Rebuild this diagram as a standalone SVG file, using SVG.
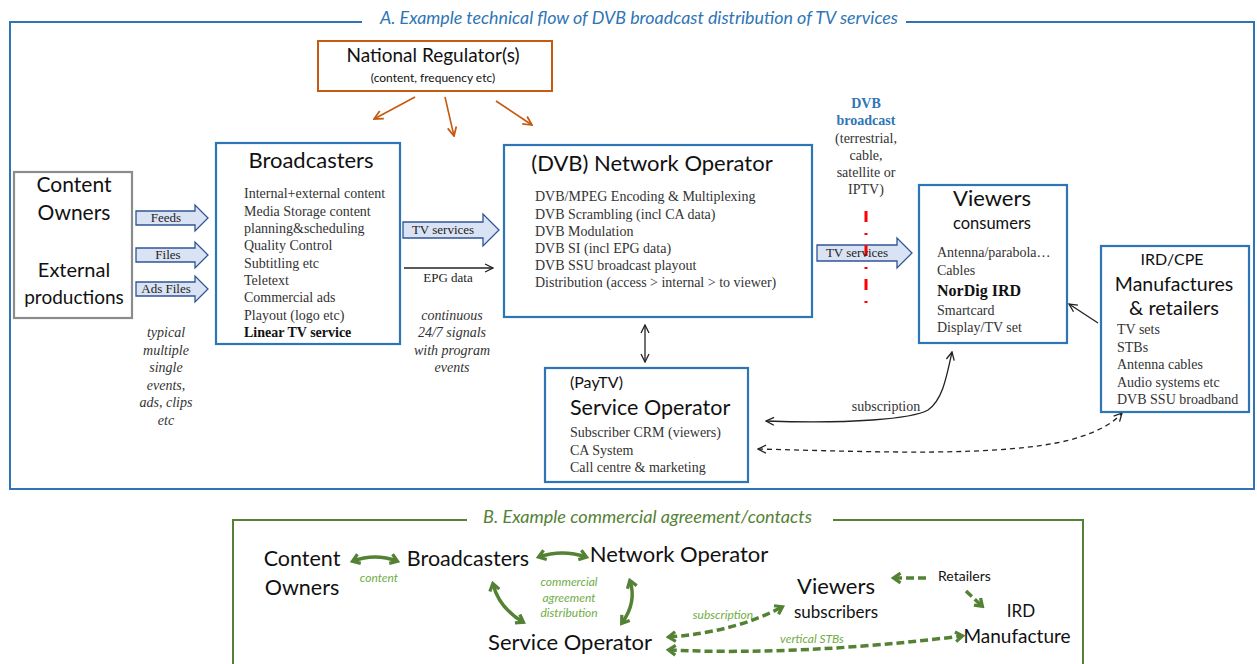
<svg xmlns="http://www.w3.org/2000/svg" width="1257" height="664" viewBox="0 0 1257 664">
<defs>
<style>
.frameA{fill:none;stroke:#2E75B6;stroke-width:2}
.frameB{fill:none;stroke:#548235;stroke-width:2}
.box{fill:#fff;stroke:#2E75B6;stroke-width:2.2}
.gbox{fill:#fff;stroke:#8C8C8C;stroke-width:2.2}
.obox{fill:#fff;stroke:#C55A11;stroke-width:2}
.cal{font-family:Lato,"Open Sans","Liberation Sans",sans-serif;fill:#111}
.ser{font-family:"Liberation Serif","DejaVu Serif",serif;fill:#333;font-size:14px}
.titA{font-family:Lato,"Open Sans","Liberation Sans",sans-serif;font-style:italic;fill:#2E75B6;font-size:17px}
.titB{font-family:Lato,"Open Sans","Liberation Sans",sans-serif;font-style:italic;fill:#548235;font-size:17px}
.glab{font-family:Lato,"Open Sans","Liberation Sans",sans-serif;font-style:italic;fill:#70AD47;font-size:12px}
.blk{fill:#DAE3F3;stroke:#2F5597;stroke-width:1.3}
.blkt{font-family:"Liberation Serif","DejaVu Serif",serif;fill:#222;font-size:13px}
.ln{fill:none;stroke:#222;stroke-width:1.3}
.oln{fill:none;stroke:#C55A11;stroke-width:1.6}
.gln{fill:none;stroke:#548235;stroke-width:3.5}
.gdash{stroke-dasharray:8 4}
</style>
<marker id="ah" viewBox="0 0 10 10" refX="9" refY="5" markerWidth="10" markerHeight="10" markerUnits="userSpaceOnUse" orient="auto-start-reverse">
<path d="M1,1 L9,5 L1,9" fill="none" stroke="#222" stroke-width="1.3"/>
</marker>
<marker id="oah" viewBox="0 0 10 10" refX="9" refY="5" markerWidth="11" markerHeight="11" markerUnits="userSpaceOnUse" orient="auto">
<path d="M1,1 L9,5 L1,9" fill="none" stroke="#C55A11" stroke-width="1.6"/>
</marker>
<marker id="gah" viewBox="0 0 12 12" refX="9" refY="6" markerWidth="13" markerHeight="13" markerUnits="userSpaceOnUse" orient="auto-start-reverse">
<path d="M3,1.5 L9.5,6 L3,10.5" fill="none" stroke="#548235" stroke-width="3" stroke-linejoin="miter"/>
</marker>
</defs>
<rect width="1257" height="664" fill="#fff"/>

<!-- Frame A -->
<g id="frameA">
<path class="frameA" d="M362,22 L10,22 L10,489 L1254,489 L1254,22 L906,22"/>
<text class="titA" x="380" y="24" textLength="518" lengthAdjust="spacingAndGlyphs">A. Example technical flow of DVB broadcast distribution of TV services</text>
</g>

<!-- Frame B -->
<g id="frameB">
<path class="frameB" d="M467,520 L233,520 L233,666 M833,520 L1083,520 L1083,666"/>
<text class="titB" x="483" y="523" textLength="329" lengthAdjust="spacingAndGlyphs">B. Example commercial agreement/contacts</text>
</g>

<!-- Connectors -->
<g id="connectors">
<path class="oln" d="M415,97 L374,119" marker-end="url(#oah)"/>
<path class="oln" d="M445,97 L454,136" marker-end="url(#oah)"/>
<path class="oln" d="M496,101 L532,125" marker-end="url(#oah)"/>

<path class="blk" d="M136,211 L195,211 L195,205 L208,218 L195,231 L195,225 L136,225 Z"/>
<path class="blk" d="M136,248 L195,248 L195,242 L208,255 L195,268 L195,262 L136,262 Z"/>
<path class="blk" d="M136,282 L195,282 L195,276 L208,289 L195,302 L195,296 L136,296 Z"/>
<path class="blk" d="M403,222 L483,222 L483,214 L499,230 L483,246 L483,238 L403,238 Z"/>
<path class="blk" d="M817,245 L897,245 L897,238 L912,253 L897,268 L897,261 L817,261 Z"/>

<path class="ln" d="M404,268 L493,268" marker-end="url(#ah)"/>
<path class="ln" d="M645,325 L645,362" marker-start="url(#ah)" marker-end="url(#ah)"/>
<path class="ln" d="M1098,323 L1069,304" marker-end="url(#ah)"/>
<path class="ln" d="M766,421 C850,424 912,419 928,410 C942,400 946,380 952,352" marker-start="url(#ah)" marker-end="url(#ah)"/>
<path class="ln" d="M758,449 C880,452 1000,457 1070,440 C1098,432 1112,424 1122,413" stroke-dasharray="5 4" marker-start="url(#ah)" marker-end="url(#ah)"/>

<path d="M866,211 L866,305" fill="none" stroke="#FF0000" stroke-width="3" stroke-dasharray="11 11 2 10"/>

<path class="gln" d="M353,561 Q375,553 397,561" marker-start="url(#gah)" marker-end="url(#gah)"/>
<path class="gln" d="M539,557 Q562,549 586,557" marker-start="url(#gah)" marker-end="url(#gah)"/>
<path class="gln" d="M493,584 Q499,608 523,622" marker-start="url(#gah)" marker-end="url(#gah)"/>
<path class="gln" d="M630,581 Q637,602 622,623" marker-start="url(#gah)" marker-end="url(#gah)"/>
<path class="gln gdash" d="M669,637 Q735,632 782,607" marker-start="url(#gah)" marker-end="url(#gah)"/>
<path class="gln gdash" d="M669,650 Q800,656 962,636" marker-start="url(#gah)" marker-end="url(#gah)"/>
<path class="gln gdash" d="M926,578 L894,578" marker-end="url(#gah)"/>
<path class="gln gdash" d="M966,591 L982,606" marker-end="url(#gah)"/>
</g>

<!-- Part A labels -->
<g id="labelsA">
<text class="blkt" x="166" y="222" text-anchor="middle">Feeds</text>
<text class="blkt" x="168" y="259" text-anchor="middle">Files</text>
<text class="blkt" x="166" y="293" text-anchor="middle">Ads Files</text>
<text class="blkt" x="443" y="234" text-anchor="middle">TV services</text>
<text class="blkt" x="857" y="257" text-anchor="middle">TV services</text>
<text class="blkt" x="448" y="282" text-anchor="middle">EPG data</text>
<text class="ser" font-style="italic" text-anchor="middle"><tspan x="452" y="320">continuous</tspan><tspan x="452" y="337">24/7 signals</tspan><tspan x="452" y="355">with program</tspan><tspan x="452" y="372">events</tspan></text>
<text class="ser" font-style="italic" text-anchor="middle"><tspan x="166" y="337">typical</tspan><tspan x="166" y="355">multiple</tspan><tspan x="166" y="372">single</tspan><tspan x="166" y="390">events,</tspan><tspan x="166" y="407">ads, clips</tspan><tspan x="166" y="425">etc</tspan></text>
<text class="ser" text-anchor="middle"><tspan x="866" y="108" font-weight="bold" fill="#2E75B6">DVB</tspan><tspan x="866" y="125" font-weight="bold" fill="#2E75B6">broadcast</tspan><tspan x="866" y="143">(terrestrial,</tspan><tspan x="866" y="160">cable,</tspan><tspan x="866" y="177">satellite or</tspan><tspan x="866" y="194">IPTV)</tspan></text>
<text class="ser" x="886" y="411" text-anchor="middle" font-size="12">subscription</text>
</g>

<g id="regulator">
<rect class="obox" x="318" y="41" width="234" height="50"/>
<text class="cal" x="433" y="62" text-anchor="middle" font-size="19">National Regulator(s)</text>
<text class="cal" x="433" y="82" text-anchor="middle" font-size="12">(content, frequency etc)</text>
</g>

<g id="contentOwners">
<rect class="gbox" x="14" y="172" width="118" height="146"/>
<text class="cal" x="74" y="192" text-anchor="middle" font-size="21">Content</text>
<text class="cal" x="74" y="220" text-anchor="middle" font-size="21">Owners</text>
<text class="cal" x="74" y="277" text-anchor="middle" font-size="20">External</text>
<text class="cal" x="74" y="304" text-anchor="middle" font-size="19">productions</text>
</g>

<g id="broadcasters">
<rect class="box" x="216" y="143" width="184" height="201"/>
<text class="cal" x="311" y="168" text-anchor="middle" font-size="22">Broadcasters</text>
<text class="ser"><tspan x="244" y="198">Internal+external content</tspan><tspan x="244" y="216">Media Storage content</tspan><tspan x="244" y="233">planning&amp;scheduling</tspan><tspan x="244" y="250">Quality Control</tspan><tspan x="244" y="268">Subtitling etc</tspan><tspan x="244" y="285">Teletext</tspan><tspan x="244" y="302">Commercial ads</tspan><tspan x="244" y="320">Playout (logo etc)</tspan><tspan x="244" y="337" font-weight="bold" fill="#111">Linear TV service</tspan></text>
</g>

<g id="networkOperator">
<rect class="box" x="504" y="145" width="308" height="172"/>
<text class="cal" x="652" y="171" text-anchor="middle" font-size="22">(DVB) Network Operator</text>
<text class="ser"><tspan x="535" y="201">DVB/MPEG  Encoding &amp; Multiplexing</tspan><tspan x="535" y="219">DVB Scrambling (incl CA data)</tspan><tspan x="535" y="236">DVB Modulation</tspan><tspan x="535" y="253">DVB SI (incl EPG data)</tspan><tspan x="535" y="270">DVB SSU broadcast playout</tspan><tspan x="535" y="287">Distribution (access &gt; internal &gt; to viewer)</tspan></text>
</g>

<g id="serviceOperator">
<rect class="box" x="545" y="368" width="203" height="114"/>
<text class="cal" x="570" y="388" font-size="16">(PayTV)</text>
<text class="cal" x="570" y="415" font-size="21.5">Service Operator</text>
<text class="ser"><tspan x="570" y="437">Subscriber CRM (viewers)</tspan><tspan x="570" y="455">CA System</tspan><tspan x="570" y="472">Call centre &amp; marketing</tspan></text>
</g>

<g id="viewers">
<rect class="box" x="919" y="185" width="148" height="158"/>
<text class="cal" x="992" y="206" text-anchor="middle" font-size="22">Viewers</text>
<text class="cal" x="992" y="229" text-anchor="middle" font-size="16.5">consumers</text>
<text class="ser"><tspan x="937" y="257">Antenna/parabola…</tspan><tspan x="937" y="275">Cables</tspan><tspan x="937" y="296" font-weight="bold" font-size="16" fill="#111">NorDig IRD</tspan><tspan x="937" y="315">Smartcard</tspan><tspan x="937" y="332">Display/TV set</tspan></text>
</g>

<g id="irdCpe">
<rect class="box" x="1101" y="246" width="148" height="166"/>
<text class="cal" x="1172" y="265" text-anchor="middle" font-size="16">IRD/CPE</text>
<text class="cal" x="1174" y="291" text-anchor="middle" font-size="19.5">Manufactures</text>
<text class="cal" x="1174" y="315" text-anchor="middle" font-size="20">&amp; retailers</text>
<text class="ser"><tspan x="1117" y="334">TV sets</tspan><tspan x="1117" y="352">STBs</tspan><tspan x="1117" y="369">Antenna cables</tspan><tspan x="1117" y="387">Audio systems etc</tspan><tspan x="1117" y="404">DVB SSU broadband</tspan></text>
</g>

<!-- Part B -->
<g id="b-contentOwners">
<text class="cal" x="302" y="566" text-anchor="middle" font-size="21.5">Content</text>
<text class="cal" x="302" y="595" text-anchor="middle" font-size="21.5">Owners</text>
</g>
<g id="b-broadcasters"><text class="cal" x="468" y="566" text-anchor="middle" font-size="21.5">Broadcasters</text></g>
<g id="b-networkOperator"><text class="cal" x="679" y="562" text-anchor="middle" font-size="22">Network Operator</text></g>
<g id="b-serviceOperator"><text class="cal" x="570" y="650" text-anchor="middle" font-size="22">Service Operator</text></g>
<g id="b-viewers">
<text class="cal" x="836" y="594" text-anchor="middle" font-size="22">Viewers</text>
<text class="cal" x="836" y="618" text-anchor="middle" font-size="17">subscribers</text>
</g>
<g id="b-retailers"><text class="cal" x="938" y="581" font-size="14">Retailers</text></g>
<g id="b-ird">
<text class="cal" x="1021" y="617" text-anchor="middle" font-size="17">IRD</text>
<text class="cal" x="1017" y="643" text-anchor="middle" font-size="19">Manufacture</text>
</g>
<g id="labelsB">
<text class="glab" x="379" y="582" text-anchor="middle">content</text>
<text class="glab" text-anchor="middle" font-size="13"><tspan x="569" y="586">commercial</tspan><tspan x="569" y="602">agreement</tspan><tspan x="569" y="617">distribution</tspan></text>
<text class="glab" x="723" y="619" text-anchor="middle">subscription</text>
<text class="glab" x="812" y="643" text-anchor="middle">vertical STBs</text>
</g>
</svg>
